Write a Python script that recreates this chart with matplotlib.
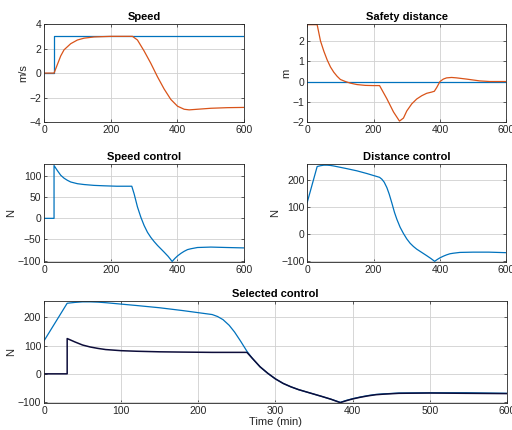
import numpy as np
import matplotlib.pyplot as plt

# --- data ------------------------------------------------------------------
# speed (m/s)
t_speed = [0, 30, 40, 50, 60, 80, 100, 120, 150, 200, 265, 280, 300, 320,
           340, 360, 380, 400, 420, 435, 460, 500, 550, 600]
speed = [0, 0, 0.7, 1.4, 1.9, 2.4, 2.7, 2.85, 2.95, 3.0, 3.0, 2.7, 1.8, 0.8,
         -0.3, -1.3, -2.15, -2.7, -2.95, -3.0, -2.95, -2.87, -2.82, -2.8]
t_speed_ref = [0, 30, 30, 600]
speed_ref = [0, 0, 3, 3]

# safety distance (m)
t_dist = [0, 30, 35, 40, 50, 60, 70, 80, 90, 100, 115, 130, 150, 175, 200,
          218, 240, 260, 278, 290, 300, 315, 330, 345, 360, 375, 383, 390,
          400, 410, 420, 435, 450, 480, 520, 550, 600]
dist = [2.8, 2.8, 2.4, 2.0, 1.5, 1.07, 0.72, 0.46, 0.26, 0.1, 0.0, -0.08,
        -0.15, -0.19, -0.2, -0.2, -0.85, -1.5, -1.95, -1.8, -1.45, -1.1,
        -0.86, -0.7, -0.58, -0.52, -0.48, -0.3, 0.0, 0.12, 0.18, 0.2, 0.18,
        0.12, 0.03, 0.0, 0.0]
t_dist_ref = [0, 600]
dist_ref = [0, 0]

# controls (N) on a common time grid
t_ctrl = [0, 30, 30, 40, 50, 60, 70, 80, 100, 120, 150, 180, 218, 225, 232,
          240, 247, 255, 263, 270, 280, 290, 300, 310, 320, 330, 340, 350,
          360, 372, 384, 392, 400, 410, 420, 430, 440, 460, 500, 547, 600]
speed_ctrl = [0, 0, 125, 113, 102, 95, 90, 86, 82, 80, 78, 77, 76, 76, 76,
              76, 76, 76, 76, 58, 27, 3, -17, -33, -45, -55, -64, -72, -80,
              -90, -102, -95, -89, -83, -78, -74, -72, -69, -68, -69, -70]
dist_ctrl = [117, 250, 250, 253, 255, 255, 254, 252, 247, 242, 234, 224,
             210, 203, 192, 172, 148, 115, 80, 55, 25, 2, -18, -34, -46,
             -56, -64, -72, -80, -90, -101, -94, -88, -82, -77, -73, -71,
             -68, -67, -67, -69]
selected = np.minimum(speed_ctrl, dist_ctrl)

BLUE = '#0072BD'
ORANGE = '#D95319'
DARK = '#0d0d3a'

plt.rcParams['font.family'] = ['Liberation Sans', 'DejaVu Sans']
plt.rcParams['axes.edgecolor'] = '#262626'
plt.rcParams['axes.linewidth'] = 0.6


def style(ax, title, ylabel, xlim, ylim, yticks, xticks):
    ax.set_xlim(*xlim)
    ax.set_ylim(*ylim)
    ax.set_yticks(yticks)
    ax.set_xticks(xticks)
    ax.set_title(title, fontsize=8, fontweight='bold', pad=3)
    ax.set_ylabel(ylabel, fontsize=8, labelpad=1, color='#262626')
    ax.grid(True, color='#d0d0d0', linewidth=0.6)
    ax.set_axisbelow(True)
    ax.tick_params(direction='in', length=2.5, width=0.5, labelsize=7.5,
                   colors='#262626', top=True, right=True, pad=2)
    ax.tick_params(labeltop=False, labelright=False)


fig = plt.figure(figsize=(5.12, 4.3), dpi=100)

ax1 = fig.add_axes([0.086, 0.716, 0.391, 0.228])
ax1.plot(t_speed_ref, speed_ref, color=BLUE, lw=0.9)
ax1.plot(t_speed, speed, color=ORANGE, lw=0.9)
style(ax1, 'Speed', 'm/s', (0, 600), (-4, 4), [-4, -2, 0, 2, 4],
      [0, 200, 400, 600])

ax2 = fig.add_axes([0.600, 0.716, 0.389, 0.228])
ax2.plot(t_dist_ref, dist_ref, color=BLUE, lw=0.9)
ax2.plot(t_dist, dist, color=ORANGE, lw=0.9)
style(ax2, 'Safety distance', 'm', (0, 600), (-2, 2.83), [-2, -1, 0, 1, 2],
      [0, 200, 400, 600])

ax3 = fig.add_axes([0.086, 0.391, 0.391, 0.228])
ax3.plot(t_ctrl, speed_ctrl, color=BLUE, lw=0.9)
style(ax3, 'Speed control', 'N', (0, 600), (-103, 129),
      [-100, -50, 0, 50, 100], [0, 200, 400, 600])

ax4 = fig.add_axes([0.600, 0.391, 0.389, 0.228])
ax4.plot(t_ctrl, dist_ctrl, color=BLUE, lw=0.9)
style(ax4, 'Distance control', 'N', (0, 600), (-103, 260),
      [-100, 0, 100, 200], [0, 200, 400, 600])

ax5 = fig.add_axes([0.086, 0.063, 0.904, 0.237])
ax5.plot(t_ctrl, dist_ctrl, color=BLUE, lw=0.9)
ax5.plot(t_ctrl, selected, color=DARK, lw=1.1)
style(ax5, 'Selected control', 'N', (0, 600), (-103, 258),
      [-100, 0, 100, 200], list(range(0, 601, 100)))
ax5.set_xlabel('Time (min)', fontsize=8, labelpad=1, color='#262626')

fig.savefig('out.png', dpi=100)
